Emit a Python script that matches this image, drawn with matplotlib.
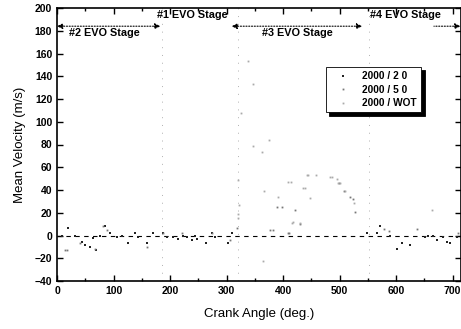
import matplotlib
matplotlib.use("Agg")
import matplotlib.pyplot as plt
from matplotlib.ticker import MultipleLocator

plt.rcParams['font.family'] = ['Liberation Sans', 'DejaVu Sans']

# ---- data ----
series_labels = ["2000 / 2 0", "2000 / 5 0", "2000 / WOT"]

angle_20 = [9, 19, 32, 44, 50, 58, 64, 69, 76, 85, 94, 106, 115, 126, 138, 143, 159, 170,
            188, 195, 205, 214, 223, 230, 239, 244, 248, 264, 274, 280, 303, 310,
            549, 566, 572, 589, 602, 611, 625, 651, 656, 665, 672, 683, 690, 695, 708]
vel_20 = [0, 7, 0, -6, -8, -10, -2, -13, 0, 8, 2, -1, 0, -7, 2, -1, -7, 2,
          2, -1, -1, -3, 0, -1, -4, 0, -3, -7, 2, -1, -7, 2,
          2, 2, 8, 0, -12, -7, -8, -1, 0, 0, -4, -1, -6, -7, -1]

angle_50 = [14, 18, 41, 67, 81, 88, 159, 188, 221, 274, 306, 319, 377, 382, 389, 398,
            409, 411, 421, 430, 499, 508, 519, 524, 527, 579, 588, 637, 710]
vel_50 = [-13, -13, -7, -12, 8, 5, -10, 2, 2, 2, -4, 7, 5, 5, 25, 25,
          2, 2, 22, 10, 46, 39, 34, 32, 21, 6, 4, 6, 2]

angle_wot = [320, 320, 320, 322, 326, 338, 347, 347, 363, 365, 366, 375, 391, 409, 414,
             416, 418, 430, 435, 439, 442, 444, 448, 458, 483, 487, 495, 497, 501, 510,
             526, 664]
vel_wot = [15, 19, 49, 27, 108, 153, 133, 79, 73, -22, 39, 84, 34, 47, 47,
           11, 12, 11, 42, 42, 53, 53, 33, 53, 51, 51, 50, 46, 46, 39,
           29, 22]

stage_bounds = [186, 320, 552]

fig = plt.figure(figsize=(4.61, 3.29), dpi=100)
ax = fig.add_axes([57/461, 48/329, (460.5-57)/461, 273/329])

ax.set_xlim(0, 714)
ax.set_ylim(-40, 200)

for xb in stage_bounds:
    ax.axvline(xb, color='#b0b0b0', lw=0.7, ls=(0, (1, 7)), zorder=1)

ax.axhline(0, color='k', lw=0.8, ls=(0, (4, 4)), zorder=2)

ax.plot(angle_20, vel_20, ls='none', marker='s', ms=1.5, color='#222222', mew=0, label=series_labels[0], zorder=3)
ax.plot(angle_50, vel_50, ls='none', marker='s', ms=1.3, color='#777777', mew=0, label=series_labels[1], zorder=3)
ax.plot(angle_wot, vel_wot, ls='none', marker='s', ms=1.3, color='#aaaaaa', mew=0, label=series_labels[2], zorder=3)

# stage arrows
ap = dict(arrowstyle='<|-|>', color='k', lw=0.8, ls=(0, (1, 1.5)), mutation_scale=8, shrinkA=0, shrinkB=0)
ax.annotate('', xy=(0, 184), xytext=(183, 184), arrowprops=ap)
ax.annotate('', xy=(309, 184), xytext=(540, 184), arrowprops=ap)
ap2 = dict(arrowstyle='<|-', color='k', lw=0.8, ls=(0, (1, 1.5)), mutation_scale=8, shrinkA=0, shrinkB=0)
ax.annotate('', xy=(667, 184), xytext=(714, 184), arrowprops=ap2)

tk = dict(fontsize=7.8, fontweight='bold', ha='center', va='center')
ax.text(240, 193.5, "#1 EVO Stage", **tk)
ax.text(83, 178, "#2 EVO Stage", **tk)
ax.text(425, 178, "#3 EVO Stage", **tk)
ax.text(616, 193.5, "#4 EVO Stage", **tk)

ax.xaxis.set_major_locator(MultipleLocator(100))
ax.xaxis.set_minor_locator(MultipleLocator(50))
ax.yaxis.set_major_locator(MultipleLocator(20))
ax.tick_params(which='both', direction='in', top=True, right=True, width=1.0)
ax.tick_params(which='major', length=4, labelsize=7.5)
ax.tick_params(which='minor', length=2)
for lab in ax.get_xticklabels() + ax.get_yticklabels():
    lab.set_fontweight('bold')
for sp in ax.spines.values():
    sp.set_linewidth(1.2)

ax.set_xlabel("Crank Angle (deg.)", fontsize=9.5, labelpad=9)
ax.set_ylabel("Mean Velocity (m/s)", fontsize=9.5, labelpad=6)

leg = ax.legend(loc='upper left', bbox_to_anchor=((326-57)/403.5, (281-67)/273),
                fontsize=7.3, frameon=True, fancybox=False, handlelength=2.6, markerscale=1,
                borderpad=0.4, labelspacing=0.35, handletextpad=0.6, borderaxespad=0,
                shadow={'color': 'k', 'alpha': 1, 'ox': 2.4, 'oy': -2.4})
leg.get_frame().set_edgecolor('k')
leg.get_frame().set_linewidth(0.6)
for t in leg.get_texts():
    t.set_fontweight('bold')

fig.savefig("out.png", dpi=100)
